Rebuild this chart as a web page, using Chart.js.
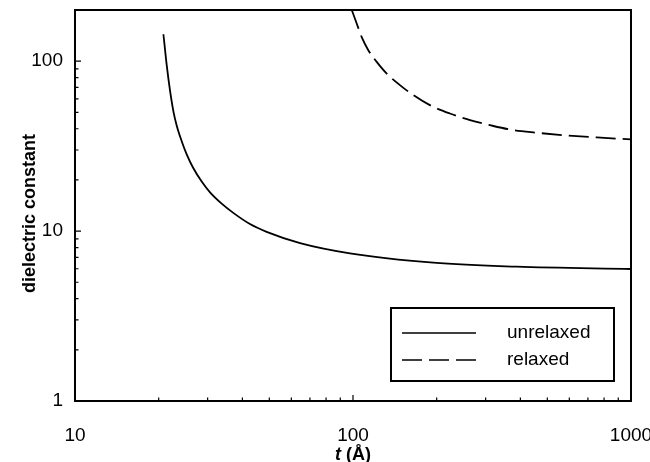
<!DOCTYPE html>
<html>
<head>
<meta charset="utf-8">
<script src="https://cdn.jsdelivr.net/npm/chart.js@4.4.0/dist/chart.umd.min.js"></script>
<style>
  html, body { margin: 0; padding: 0; background: #fff; }
  #wrap { width: 650px; height: 462px; }
</style>
</head>
<body>
<div id="wrap"><canvas id="chart" width="650" height="462"></canvas></div>
<script>
// values (t in Angstrom, dielectric constant)
const unrelaxedT   = [20.8, 21.37, 21.97, 22.6, 23.2, 24.2, 25.2, 26.6, 28.6, 30.6, 33.7, 37.1, 42.6, 48.9, 64.5, 97.5, 194.5, 388, 1000];
const unrelaxedEps = [144, 95, 67, 50.5, 42, 33.8, 28.4, 23.6, 19.5, 16.9, 14.5, 12.8, 11.0, 9.9, 8.5, 7.4, 6.52, 6.17, 5.98];
const relaxedT     = [99, 103.1, 107.4, 113.5, 121.7, 132, 147.5, 164.8, 189, 223, 263.6, 311, 376, 458, 569, 753, 1000];
const relaxedEps   = [200, 166.7, 139, 116, 99, 84.7, 72.3, 63.1, 55.1, 49.2, 45, 42, 39.3, 37.9, 36.7, 35.6, 34.6];

const seriesNames = ['unrelaxed', 'relaxed'];
const xMajorTicks = [10, 100, 1000];
const xMinorTicks = [20, 30, 40, 50, 60, 70, 80, 90, 200, 300, 400, 500, 600, 700, 800, 900];
const yMajorTicks = [1, 10, 100];
const yMinorTicks = [2, 3, 4, 5, 6, 7, 8, 9, 20, 30, 40, 50, 60, 70, 80, 90];

const FONT = '"Liberation Sans", Arial, Helvetica, sans-serif';

const framePlugin = {
  id: 'frame',
  afterDatasetsDraw(chart) {
    const { ctx, chartArea: a, scales: { x, y } } = chart;
    ctx.save();
    ctx.strokeStyle = '#000';
    ctx.fillStyle = '#000';

    // inward tick marks
    ctx.lineWidth = 1.2;
    ctx.beginPath();
    xMajorTicks.forEach(v => { const px = x.getPixelForValue(v); ctx.moveTo(px, a.bottom); ctx.lineTo(px, a.bottom - 6); });
    xMinorTicks.forEach(v => { const px = x.getPixelForValue(v); ctx.moveTo(px, a.bottom); ctx.lineTo(px, a.bottom - 3.5); });
    yMajorTicks.forEach(v => { const py = y.getPixelForValue(v); ctx.moveTo(a.left, py); ctx.lineTo(a.left + 6, py); });
    yMinorTicks.forEach(v => { const py = y.getPixelForValue(v); ctx.moveTo(a.left, py); ctx.lineTo(a.left + 3.5, py); });
    ctx.stroke();

    // frame
    ctx.lineWidth = 2;
    ctx.strokeRect(a.left, a.top, a.right - a.left, a.bottom - a.top);

    // legend box
    const lx = 391, ly = 308, lw = 223, lh = 73;
    ctx.fillStyle = '#fff';
    ctx.fillRect(lx, ly, lw, lh);
    ctx.strokeRect(lx, ly, lw, lh);
    ctx.fillStyle = '#000';
    ctx.font = '19px ' + FONT;
    ctx.textBaseline = 'middle';
    ctx.textAlign = 'left';
    const rows = [333, 360];
    chart.data.datasets.forEach((ds, i) => {
      ctx.lineWidth = 1.6;
      ctx.setLineDash(ds.borderDash || []);
      ctx.beginPath();
      ctx.moveTo(402, rows[i]);
      ctx.lineTo(476, rows[i]);
      ctx.stroke();
      ctx.setLineDash([]);
      ctx.fillText(ds.label, 507, rows[i]);
    });

    // axis titles
    ctx.font = 'bold 18px ' + FONT;
    ctx.textBaseline = 'middle';
    ctx.textAlign = 'center';
    ctx.save();
    ctx.translate(30, (a.top + a.bottom) / 2 + 8);
    ctx.rotate(-Math.PI / 2);
    ctx.fillText('dielectric constant', 0, 0);
    ctx.restore();

    const tPart = 't', rest = ' (Å)';
    ctx.font = 'italic bold 18px ' + FONT;
    const w1 = ctx.measureText(tPart).width;
    ctx.font = 'bold 18px ' + FONT;
    const w2 = ctx.measureText(rest).width;
    const cx = x.getPixelForValue(100);
    const start = cx - (w1 + w2) / 2;
    ctx.textAlign = 'left';
    ctx.font = 'italic bold 18px ' + FONT;
    ctx.fillText(tPart, start, 455);
    ctx.font = 'bold 18px ' + FONT;
    ctx.fillText(rest, start + w1, 455);
    ctx.restore();
  }
};

const toPoints = (xs, ys) => xs.map((t, i) => ({ x: t, y: ys[i] }));

new Chart(document.getElementById('chart'), {
  type: 'line',
  data: {
    datasets: [
      {
        label: seriesNames[0],
        data: toPoints(unrelaxedT, unrelaxedEps),
        borderColor: '#000',
        borderWidth: 1.8,
        pointRadius: 0,
        cubicInterpolationMode: 'monotone',
        fill: false
      },
      {
        label: seriesNames[1],
        data: toPoints(relaxedT, relaxedEps),
        borderColor: '#000',
        borderWidth: 1.8,
        borderDash: [20, 7],
        pointRadius: 0,
        cubicInterpolationMode: 'monotone',
        fill: false
      }
    ]
  },
  options: {
    responsive: false,
    animation: false,
    layout: { padding: { top: 10, right: 19, left: 0, bottom: 0 } },
    plugins: { legend: { display: false }, tooltip: { enabled: false } },
    scales: {
      x: {
        type: 'logarithmic',
        min: 10,
        max: 1000,
        grid: { display: false, drawTicks: false },
        border: { display: false },
        afterBuildTicks: s => { s.ticks = xMajorTicks.map(v => ({ value: v })); },
        afterFit: s => { s.height = 61; s.paddingLeft = 0; s.paddingRight = 0; },
        ticks: {
          autoSkip: false,
          maxRotation: 0,
          padding: 23,
          color: '#000',
          font: { family: FONT, size: 19 },
          callback: v => String(v)
        }
      },
      y: {
        type: 'logarithmic',
        min: 1,
        max: 200,
        grid: { display: false, drawTicks: false },
        border: { display: false },
        afterBuildTicks: s => { s.ticks = yMajorTicks.map(v => ({ value: v })); },
        afterFit: s => { s.width = 75; s.paddingTop = 0; s.paddingBottom = 0; },
        ticks: {
          autoSkip: false,
          padding: 12,
          color: '#000',
          font: { family: FONT, size: 19 },
          callback: v => String(v)
        }
      }
    }
  },
  plugins: [framePlugin]
});
</script>
</body>
</html>
